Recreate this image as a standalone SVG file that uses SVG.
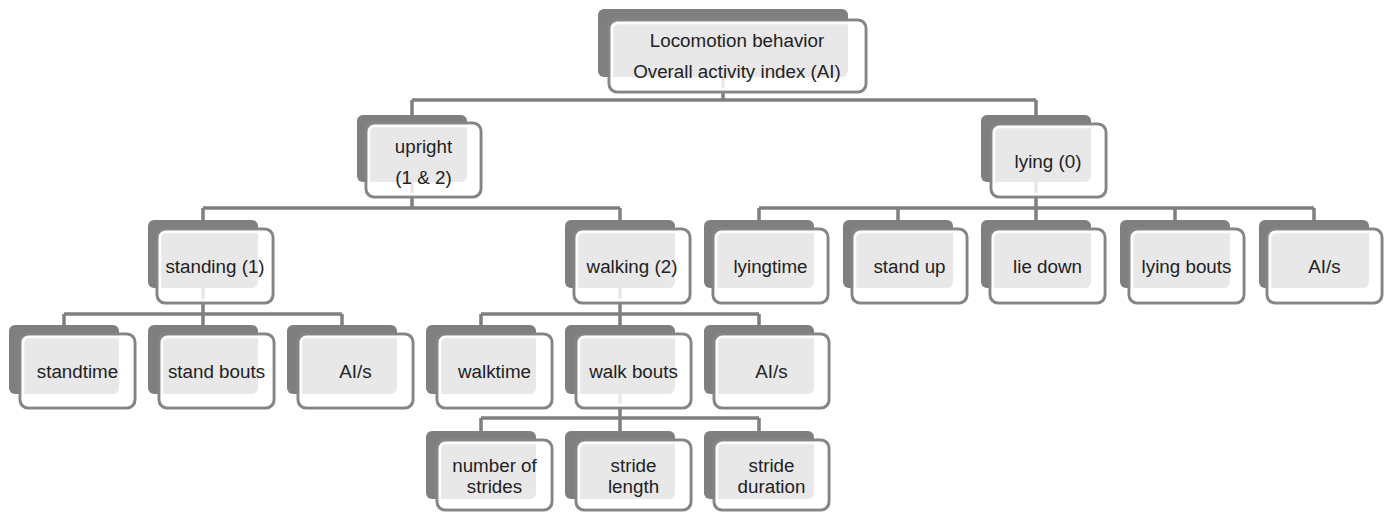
<svg xmlns="http://www.w3.org/2000/svg" width="1384" height="512" viewBox="0 0 1384 512">
<style>
.bg{fill:#fff}
.back{fill:#7f7f7f}
.front{fill:#fff;fill-opacity:.82;stroke:#858585;stroke-width:3}
.inner{fill:none;stroke:#fff;stroke-width:2.5;stroke-opacity:.9}
.con{fill:none;stroke:#7f7f7f;stroke-width:3.5}
text{font-family:"Liberation Sans",Arial,sans-serif;font-size:18.8px;fill:#222;text-anchor:middle}
</style>
<rect class="bg" x="0" y="0" width="1384" height="512"/>
<g id="connectors">
<path class="con" d="M723 70V100M412 100H1036M412 100V116M1036 100V116"/>
<path class="con" d="M412 175V208M203 208H620M203 208V221M620 208V221"/>
<path class="con" d="M1036 175V208M759 208H1314M759 208V221M898 208V221M1036 208V221M1175 208V221M1314 208V221"/>
<path class="con" d="M203 280V314M64 314H342M64 314V326M203 314V326M342 314V326"/>
<path class="con" d="M620 280V314M481 314H759M481 314V326M620 314V326M759 314V326"/>
<path class="con" d="M620 385V418M481 418H759M481 418V432M620 418V432M759 418V432"/>
</g>
<g id="root">
<rect class="back" x="598" y="9" width="250" height="68" rx="6"/>
<rect class="front" x="609" y="20" width="257" height="72" rx="8"/>
<rect class="inner" x="612" y="23" width="251" height="66" rx="6"/>
<text x="737" y="47">Locomotion behavior</text>
<text x="737" y="78">Overall activity index (AI)</text>
</g>
<g id="upright">
<rect class="back" x="357" y="115" width="110" height="67" rx="6"/>
<rect class="front" x="366" y="123" width="115" height="74" rx="8"/>
<rect class="inner" x="369" y="126" width="109" height="68" rx="6"/>
<text x="423.5" y="153">upright</text>
<text x="423.5" y="184">(1 &amp; 2)</text>
</g>
<g id="lying">
<rect class="back" x="981" y="115" width="110" height="67" rx="6"/>
<rect class="front" x="991" y="124" width="115" height="73" rx="8"/>
<rect class="inner" x="994" y="127" width="109" height="67" rx="6"/>
<text x="1048" y="168">lying (0)</text>
</g>
<g id="standing">
<rect class="back" x="148" y="220" width="110" height="68" rx="6"/>
<rect class="front" x="157" y="229" width="116" height="74" rx="8"/>
<rect class="inner" x="160" y="232" width="110" height="68" rx="6"/>
<text x="215" y="273">standing (1)</text>
</g>
<g id="walking">
<rect class="back" x="565" y="220" width="110" height="68" rx="6"/>
<rect class="front" x="574" y="229" width="116" height="74" rx="8"/>
<rect class="inner" x="577" y="232" width="110" height="68" rx="6"/>
<text x="632" y="273">walking (2)</text>
</g>
<g id="lyingtime">
<rect class="back" x="704" y="220" width="110" height="68" rx="6"/>
<rect class="front" x="713" y="229" width="115" height="74" rx="8"/>
<rect class="inner" x="716" y="232" width="109" height="68" rx="6"/>
<text x="770.5" y="273">lyingtime</text>
</g>
<g id="standup">
<rect class="back" x="843" y="220" width="110" height="68" rx="6"/>
<rect class="front" x="852" y="229" width="115" height="74" rx="8"/>
<rect class="inner" x="855" y="232" width="109" height="68" rx="6"/>
<text x="909.5" y="273">stand up</text>
</g>
<g id="liedown">
<rect class="back" x="981" y="220" width="110" height="68" rx="6"/>
<rect class="front" x="990" y="229" width="115" height="74" rx="8"/>
<rect class="inner" x="993" y="232" width="109" height="68" rx="6"/>
<text x="1047.5" y="273">lie down</text>
</g>
<g id="lyingbouts">
<rect class="back" x="1120" y="220" width="110" height="68" rx="6"/>
<rect class="front" x="1129" y="229" width="115" height="74" rx="8"/>
<rect class="inner" x="1132" y="232" width="109" height="68" rx="6"/>
<text x="1186.5" y="273">lying bouts</text>
</g>
<g id="lyingais">
<rect class="back" x="1259" y="220" width="110" height="68" rx="6"/>
<rect class="front" x="1267" y="229" width="115" height="74" rx="8"/>
<rect class="inner" x="1270" y="232" width="109" height="68" rx="6"/>
<text x="1324.5" y="273">AI/s</text>
</g>
<g id="standtime">
<rect class="back" x="9" y="325" width="110" height="69" rx="6"/>
<rect class="front" x="20" y="334" width="115" height="74" rx="8"/>
<rect class="inner" x="23" y="337" width="109" height="68" rx="6"/>
<text x="77.5" y="378">standtime</text>
</g>
<g id="standbouts">
<rect class="back" x="148" y="325" width="110" height="69" rx="6"/>
<rect class="front" x="159" y="334" width="115" height="74" rx="8"/>
<rect class="inner" x="162" y="337" width="109" height="68" rx="6"/>
<text x="216.5" y="378">stand bouts</text>
</g>
<g id="standais">
<rect class="back" x="287" y="325" width="110" height="69" rx="6"/>
<rect class="front" x="298" y="334" width="115" height="74" rx="8"/>
<rect class="inner" x="301" y="337" width="109" height="68" rx="6"/>
<text x="355.5" y="378">AI/s</text>
</g>
<g id="walktime">
<rect class="back" x="426" y="325" width="110" height="69" rx="6"/>
<rect class="front" x="437" y="334" width="115" height="74" rx="8"/>
<rect class="inner" x="440" y="337" width="109" height="68" rx="6"/>
<text x="494.5" y="378">walktime</text>
</g>
<g id="walkbouts">
<rect class="back" x="565" y="325" width="110" height="69" rx="6"/>
<rect class="front" x="576" y="334" width="115" height="74" rx="8"/>
<rect class="inner" x="579" y="337" width="109" height="68" rx="6"/>
<text x="633.5" y="378">walk bouts</text>
</g>
<g id="walkais">
<rect class="back" x="704" y="325" width="110" height="69" rx="6"/>
<rect class="front" x="714" y="334" width="115" height="74" rx="8"/>
<rect class="inner" x="717" y="337" width="109" height="68" rx="6"/>
<text x="771.5" y="378">AI/s</text>
</g>
<g id="numstrides">
<rect class="back" x="426" y="431" width="110" height="68" rx="6"/>
<rect class="front" x="437" y="440" width="115" height="70" rx="8"/>
<rect class="inner" x="440" y="443" width="109" height="64" rx="6"/>
<text x="494.5" y="472">number of</text>
<text x="494.5" y="493">strides</text>
</g>
<g id="stridelength">
<rect class="back" x="565" y="431" width="110" height="68" rx="6"/>
<rect class="front" x="576" y="440" width="115" height="70" rx="8"/>
<rect class="inner" x="579" y="443" width="109" height="64" rx="6"/>
<text x="633.5" y="472">stride</text>
<text x="633.5" y="493">length</text>
</g>
<g id="strideduration">
<rect class="back" x="704" y="431" width="110" height="68" rx="6"/>
<rect class="front" x="714" y="440" width="115" height="70" rx="8"/>
<rect class="inner" x="717" y="443" width="109" height="64" rx="6"/>
<text x="771.5" y="472">stride</text>
<text x="771.5" y="493">duration</text>
</g>
</svg>
